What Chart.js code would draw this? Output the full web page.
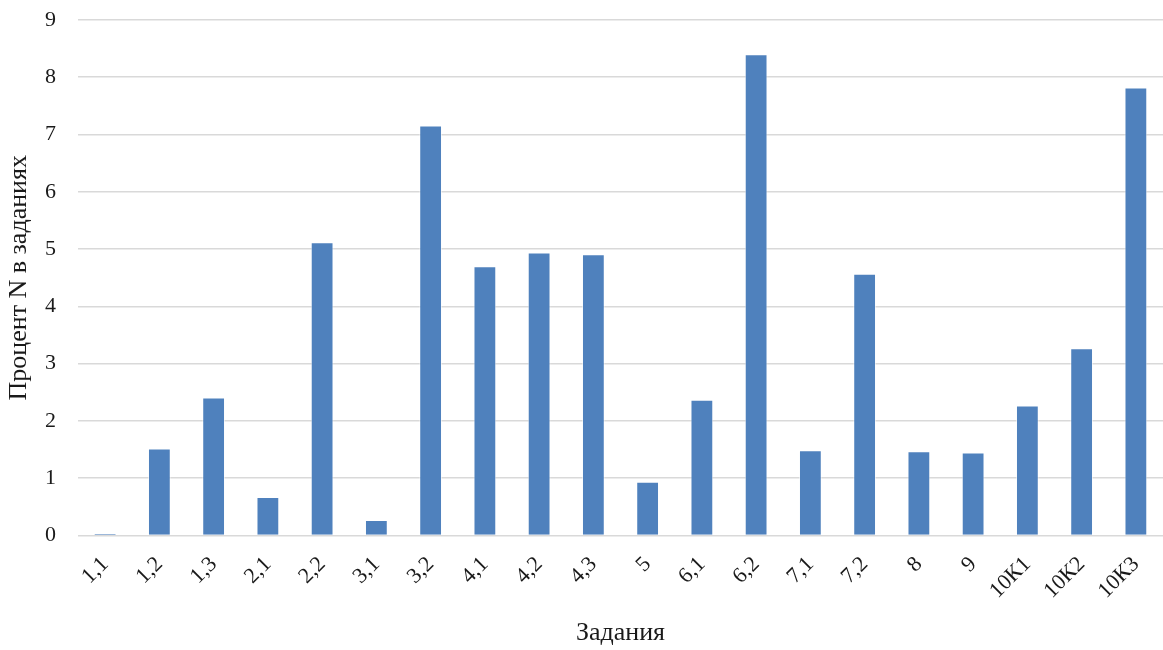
<!DOCTYPE html>
<html>
<head>
<meta charset="utf-8">
<script src="https://cdn.jsdelivr.net/npm/chart.js@4/dist/chart.umd.min.js"></script>
<style>
html,body{margin:0;padding:0;background:#fff;}
#wrap{width:1163px;height:650px;position:relative;}
</style>
</head>
<body>
<div id="wrap"><canvas id="c" width="1163" height="650"></canvas></div>
<script>
const categories = ["1,1","1,2","1,3","2,1","2,2","3,1","3,2","4,1","4,2","4,3","5","6,1","6,2","7,1","7,2","8","9","10К1","10К2","10К3"];
const values = [0.04,1.52,2.41,0.67,5.12,0.27,7.16,4.70,4.94,4.91,0.94,2.37,8.40,1.49,4.57,1.47,1.45,2.27,3.27,7.82];
const yTicks = [0,1,2,3,4,5,6,7,8,9];

const serif = "'Liberation Serif', 'Times New Roman', serif";

new Chart(document.getElementById('c'), {
  type: 'bar',
  data: {
    labels: categories,
    datasets: [{
      data: values,
      backgroundColor: '#4F81BD',
      borderColor: 'rgba(255,255,255,0.55)',
      borderWidth: 1,
      categoryPercentage: 0.42,
      barPercentage: 1.0
    }]
  },
  options: {
    responsive: false,
    animation: false,
    layout: { padding: { top: 20, right: 0, left: 0, bottom: 0 } },
    plugins: { legend: { display: false }, tooltip: { enabled: false } },
    scales: {
      x: {
        grid: { display: false, drawTicks: false },
        border: { display: false },
        ticks: {
          color: '#1a1a1a',
          font: { family: serif, size: 22 },
          minRotation: 45, maxRotation: 45,
          padding: 16
        },
        title: {
          display: true, text: 'Задания', color: '#1a1a1a',
          font: { family: serif, size: 26 },
          padding: { top: 0, bottom: 1 }
        },
        afterFit: (s) => { s.height = 114.5; s.paddingLeft = 0; s.paddingRight = 0; }
      },
      y: {
        min: 0, max: 9,
        afterBuildTicks: (s) => { s.ticks = yTicks.map(v => ({ value: v })); },
        grid: { color: '#d9d9d9', lineWidth: 1.6, drawTicks: false },
        border: { display: false },
        ticks: {
          color: '#1a1a1a',
          font: { family: serif, size: 22 },
          padding: 22
        },
        title: {
          display: true, text: 'Процент N в заданиях', color: '#1a1a1a',
          font: { family: serif, size: 26 },
          padding: { top: 4, bottom: 0 }
        },
        afterFit: (s) => { s.width = 78; s.paddingTop = 0; s.paddingBottom = 0; }
      }
    }
  }
});
</script>
</body>
</html>
